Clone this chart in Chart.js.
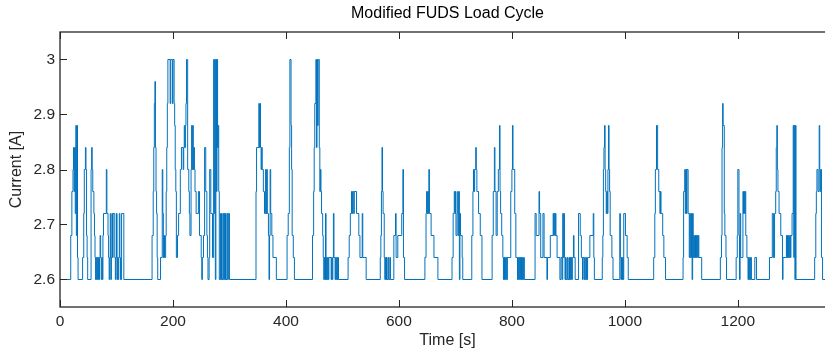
<!DOCTYPE html>
<html><head><meta charset="utf-8">
<script src="https://cdn.jsdelivr.net/npm/chart.js@4/dist/chart.umd.min.js"></script>
<style>html,body{margin:0;padding:0;background:#fff;overflow:hidden;width:825px;height:351px}canvas{display:block}</style>
</head><body>
<canvas id="c" width="840" height="351"></canvas>
<script>
// Change points of the step signal: time [s] at which the current switches to the given level [A]
const changeTimes = [
0,19,21,23,24,25,26,27,28,29,30,31,32,40,42,43,45,46,47,48,49,55,56,57,58,60,61,62,63,64,65,66,67,68,69,70,71,72,73,74,75,76,77,82,83,85,86,87,88,89,90,91,92,93,94,97,98,99,100,101,102,103,104,105,106,107,109,113,
163,165,166,167,168,169,170,171,172,173,178,181,182,183,184,185,187,188,189,190,191,195,196,199,200,202,203,204,205,206,208,210,213,215,218,219,220,221,222,223,224,226,228,229,230,232,233,234,235,236,237,238,239,241,245,247,250,251,252,254,256,258,260,261,262,264,265,267,270,272,273,274,275,276,277,278,279,280,281,282,284,285,286,287,289,290,291,292,293,294,296,297,298,300,
347,348,352,353,354,355,356,357,358,360,362,364,365,366,367,369,370,371,372,373,375,377,383,402,404,406,407,409,410,411,413,415,
447,449,450,451,453,454,455,456,457,459,460,461,462,463,465,466,467,468,469,470,471,472,473,474,475,476,480,481,482,483,484,485,487,488,489,490,491,492,493,
510,512,514,516,517,518,520,521,525,529,531,535,536,542,567,568,569,570,571,572,574,575,576,577,578,579,581,582,584,585,591,594,595,598,605,607,608,610,646,648,649,650,651,652,653,654,657,662,669,
694,696,698,699,700,701,703,704,705,706,707,708,709,712,713,729,731,732,733,734,736,737,738,741,744,747,765,767,769,770,772,774,776,778,779,780,782,784,785,786,787,788,789,790,791,792,798,800,801,802,805,807,810,811,812,813,814,815,816,817,818,819,820,821,822,841,843,848,849,851,855,857,862,863,868,873,874,875,876,877,878,880,885,887,889,890,891,892,893,894,895,896,898,899,901,902,903,904,905,906,907,909,910,912,
918,921,923,925,926,928,929,930,932,933,934,938,944,945,946,960,961,962,963,964,965,966,967,968,969,970,971,972,973,974,977,979,991,992,993,994,995,996,997,998,1001,1004,1006,1051,1053,1054,1056,1058,1060,1062,1063,1064,1067,1069,1072,1103,1104,1106,1107,1108,1109,1110,1112,1114,1115,1116,1118,1119,1120,1121,1122,1123,1124,1125,1126,1127,1128,1129,1130,1131,1136,1169,1171,1172,1173,1174,1176,1177,1179,1180,1197,1199,1200,1202,1203,1204,1205,1209,1210,1211,1212,1213,1214,1216,1218,1219,1220,1221,1222,1223,1224,1230,1233,1256,1261,1263,1265,1267,1268,1269,1270,1271,1273,1276,1279,1280,1286,1287,1288,1289,1290,1291,1292,1293,1294,1296,1298,1299,1300,1301,1302,1303,1336,1338,1339,1340,1342,1344,1345,1346,1347,1348,1350,1372
];
const currentLevels = [
2.60,2.68,2.76,2.80,2.84,2.76,2.84,2.72,2.88,2.68,2.88,2.64,2.60,2.64,2.72,2.80,2.84,2.80,2.68,2.64,2.60,2.80,2.84,2.80,2.76,2.72,2.68,2.64,2.60,2.64,2.60,2.64,2.60,2.64,2.60,2.64,2.68,2.64,2.60,2.64,2.60,2.68,2.72,2.80,2.72,2.68,2.64,2.60,2.64,2.72,2.60,2.64,2.72,2.64,2.72,2.64,2.60,2.64,2.72,2.60,2.64,2.60,2.64,2.72,2.64,2.60,2.72,2.60,
2.68,2.76,2.84,2.92,2.96,2.84,2.76,2.72,2.64,2.60,2.64,2.80,2.72,2.64,2.68,2.64,2.68,2.76,2.84,2.92,3.00,2.92,3.00,2.92,3.00,2.92,2.88,2.80,2.76,2.64,2.68,2.72,2.80,2.84,2.80,2.84,2.88,2.84,2.88,2.92,3.00,2.80,2.76,2.72,2.68,2.80,2.88,2.80,2.88,2.80,2.84,2.80,2.76,2.72,2.76,2.68,2.64,2.60,2.64,2.68,2.84,2.76,2.68,2.64,2.60,2.64,2.80,2.72,2.64,3.00,2.72,3.00,2.60,3.00,2.76,3.00,2.84,2.88,2.76,2.60,2.72,2.60,2.72,2.60,2.72,2.60,2.72,2.60,2.72,2.60,2.72,2.60,2.72,2.60,
2.76,2.84,2.92,2.84,2.92,2.84,2.80,2.84,2.80,2.76,2.72,2.80,2.72,2.80,2.72,2.68,2.60,2.68,2.80,2.72,2.68,2.64,2.60,2.68,2.72,2.84,3.00,2.88,2.80,2.68,2.64,2.60,
2.68,2.76,2.84,2.92,3.00,2.84,3.00,2.88,3.00,2.84,2.76,2.80,2.76,2.72,2.68,2.64,2.60,2.64,2.60,2.72,2.60,2.64,2.60,2.64,2.60,2.64,2.60,2.64,2.60,2.64,2.72,2.64,2.60,2.64,2.60,2.64,2.60,2.64,2.60,
2.64,2.68,2.72,2.76,2.72,2.76,2.72,2.76,2.72,2.68,2.64,2.72,2.64,2.60,2.64,2.68,2.76,2.84,2.76,2.72,2.64,2.60,2.64,2.60,2.64,2.60,2.64,2.60,2.64,2.60,2.68,2.72,2.64,2.68,2.72,2.80,2.64,2.60,2.64,2.72,2.76,2.72,2.76,2.72,2.80,2.72,2.68,2.64,2.60,
2.64,2.72,2.76,2.72,2.76,2.68,2.72,2.76,2.68,2.76,2.60,2.72,2.68,2.64,2.60,2.68,2.76,2.80,2.76,2.80,2.84,2.80,2.76,2.72,2.68,2.60,2.68,2.76,2.84,2.76,2.68,2.76,2.80,2.88,2.76,2.72,2.68,2.64,2.60,2.64,2.60,2.64,2.60,2.64,2.60,2.64,2.76,2.80,2.88,2.80,2.72,2.64,2.60,2.64,2.60,2.64,2.60,2.64,2.60,2.64,2.60,2.64,2.60,2.64,2.60,2.72,2.68,2.76,2.72,2.64,2.72,2.64,2.60,2.64,2.68,2.72,2.68,2.72,2.68,2.72,2.68,2.64,2.60,2.64,2.60,2.72,2.64,2.72,2.64,2.60,2.64,2.60,2.64,2.60,2.64,2.60,2.64,2.60,2.64,2.60,2.64,2.68,2.64,2.60,
2.72,2.68,2.64,2.60,2.64,2.60,2.64,2.60,2.64,2.60,2.64,2.68,2.72,2.64,2.60,2.64,2.68,2.80,2.84,2.88,2.80,2.76,2.72,2.76,2.72,2.80,2.88,2.80,2.76,2.68,2.64,2.60,2.72,2.64,2.60,2.64,2.60,2.64,2.60,2.72,2.68,2.64,2.60,2.64,2.72,2.80,2.88,2.80,2.76,2.72,2.76,2.72,2.68,2.64,2.60,2.64,2.76,2.80,2.72,2.80,2.72,2.80,2.72,2.64,2.72,2.64,2.72,2.60,2.72,2.64,2.68,2.64,2.68,2.64,2.68,2.64,2.68,2.64,2.68,2.64,2.60,2.64,2.68,2.84,2.92,2.88,2.72,2.68,2.64,2.60,2.64,2.68,2.80,2.68,2.60,2.72,2.64,2.76,2.72,2.76,2.72,2.76,2.68,2.64,2.60,2.64,2.60,2.64,2.60,2.64,2.60,2.64,2.60,2.64,2.72,2.64,2.72,2.76,2.84,2.88,2.80,2.76,2.72,2.68,2.60,2.64,2.68,2.64,2.68,2.64,2.68,2.64,2.68,2.64,2.68,2.72,2.88,2.64,2.88,2.60,2.88,2.60,2.64,2.72,2.76,2.80,2.76,2.88,2.80,2.76,2.80,2.64,2.60,2.60
];
const xTickValues = [0, 200, 400, 600, 800, 1000, 1200];
const yTickValues = [2.6, 2.7, 2.8, 2.9, 3.0];
const titleText = 'Modified FUDS Load Cycle';
const xLabel = 'Time [s]';
const yLabel = 'Current [A]';

const FONT = "'Liberation Sans', Arial, Helvetica, sans-serif";
const AXIS_COLOR = '#262626';

const boxPlugin = {
  id: 'matlabBox',
  afterDatasetsDraw(chart) {
    const {ctx, chartArea: a, scales: {x, y}} = chart;
    ctx.save();
    ctx.strokeStyle = AXIS_COLOR;
    ctx.lineWidth = 1;
    const L = 7;
    ctx.beginPath();
    xTickValues.forEach(v => {
      const px = Math.round(x.getPixelForValue(v)) + 0.5;
      ctx.moveTo(px, a.bottom); ctx.lineTo(px, a.bottom - L);
      ctx.moveTo(px, a.top); ctx.lineTo(px, a.top + L);
    });
    yTickValues.forEach(v => {
      const py = Math.round(y.getPixelForValue(v)) + 0.5;
      ctx.moveTo(a.left, py); ctx.lineTo(a.left + L, py);
      ctx.moveTo(a.right, py); ctx.lineTo(a.right - L, py);
    });
    ctx.stroke();
    ctx.lineWidth = 1.3;
    ctx.strokeRect(a.left, a.top, a.right - a.left, a.bottom - a.top);
    ctx.restore();
  }
};

const points = changeTimes.map((t, i) => ({x: t, y: currentLevels[i]}));

new Chart(document.getElementById('c'), {
  type: 'line',
  data: { datasets: [{
    data: points,
    borderColor: '#0072BD',
    borderWidth: 1,
    pointRadius: 0,
    stepped: true,
    fill: false,
    tension: 0
  }] },
  options: {
    responsive: false,
    animation: false,
    devicePixelRatio: 1,
    layout: { padding: { left: 0, right: 5, top: 0, bottom: 0 } },
    plugins: {
      legend: { display: false },
      tooltip: { enabled: false },
      title: {
        display: true, text: titleText, fullSize: false, color: '#000',
        font: { family: FONT, size: 16, weight: 'normal', lineHeight: 1.2 },
        padding: { top: 4.4, bottom: 8.4 }
      }
    },
    scales: {
      x: {
        type: 'linear', min: 0, max: 1372,
        grid: { display: false, drawTicks: false }, border: { display: false },
        afterBuildTicks: s => { s.ticks = xTickValues.map(v => ({value: v})); },
        afterFit: s => { s.height = 44; },
        ticks: { padding: 5.6, color: AXIS_COLOR, autoSkip: false, maxRotation: 0,
                 font: { family: FONT, size: 15.5 }, callback: v => String(v) },
        title: { display: true, text: xLabel, color: AXIS_COLOR,
                 font: { family: FONT, size: 16, lineHeight: 1.2 }, padding: { top: 0, bottom: 0.9 } }
      },
      y: {
        type: 'linear', min: 2.55, max: 3.05,
        grid: { display: false, drawTicks: false }, border: { display: false },
        afterBuildTicks: s => { s.ticks = yTickValues.map(v => ({value: v})); },
        afterFit: s => { s.width = 60; },
        ticks: { padding: 5, color: AXIS_COLOR, font: { family: FONT, size: 15.5 },
                 callback: v => String(Math.round(v * 100) / 100) },
        title: { display: true, text: yLabel, color: AXIS_COLOR,
                 font: { family: FONT, size: 16, lineHeight: 1.2 }, padding: { top: 7.4, bottom: 0 } }
      }
    }
  },
  plugins: [boxPlugin]
});
</script>
</body></html>
